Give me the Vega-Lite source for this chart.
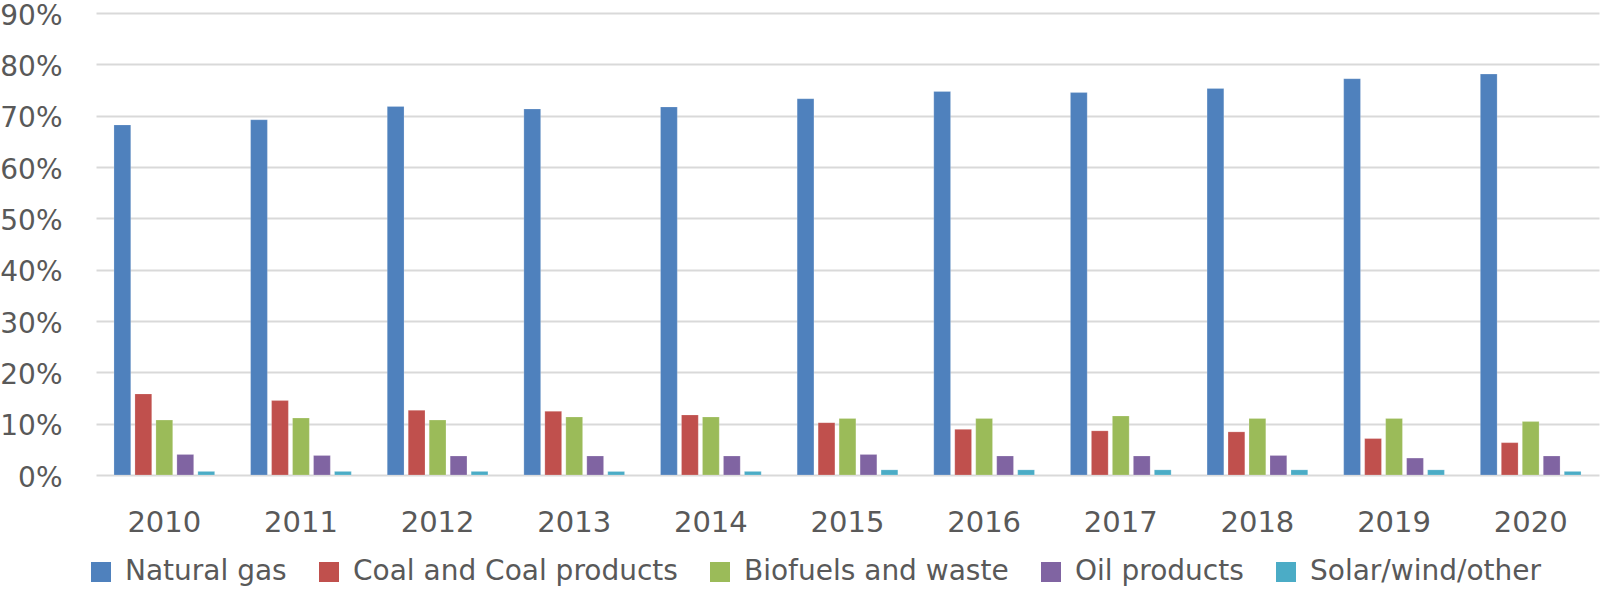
{
  "$schema": "https://vega.github.io/schema/vega-lite/v6.json",
  "width": 1503,
  "height": 462,
  "autosize": {"type": "none"},
  "padding": {"left": 96, "top": 13, "right": 1, "bottom": 116},
  "background": "white",
  "config": {
    "view": {"stroke": null},
    "font": "DejaVu Sans"
  },
  "data": {
    "values": [
      {"year": "2010", "source": "Natural gas", "share": 68.2},
      {"year": "2010", "source": "Coal and Coal products", "share": 15.8},
      {"year": "2010", "source": "Biofuels and waste", "share": 10.7},
      {"year": "2010", "source": "Oil products", "share": 4.0},
      {"year": "2010", "source": "Solar/wind/other", "share": 0.7},
      {"year": "2011", "source": "Natural gas", "share": 69.2},
      {"year": "2011", "source": "Coal and Coal products", "share": 14.5},
      {"year": "2011", "source": "Biofuels and waste", "share": 11.1},
      {"year": "2011", "source": "Oil products", "share": 3.8},
      {"year": "2011", "source": "Solar/wind/other", "share": 0.7},
      {"year": "2012", "source": "Natural gas", "share": 71.8},
      {"year": "2012", "source": "Coal and Coal products", "share": 12.6},
      {"year": "2012", "source": "Biofuels and waste", "share": 10.7},
      {"year": "2012", "source": "Oil products", "share": 3.7},
      {"year": "2012", "source": "Solar/wind/other", "share": 0.7},
      {"year": "2013", "source": "Natural gas", "share": 71.3},
      {"year": "2013", "source": "Coal and Coal products", "share": 12.4},
      {"year": "2013", "source": "Biofuels and waste", "share": 11.3},
      {"year": "2013", "source": "Oil products", "share": 3.7},
      {"year": "2013", "source": "Solar/wind/other", "share": 0.7},
      {"year": "2014", "source": "Natural gas", "share": 71.7},
      {"year": "2014", "source": "Coal and Coal products", "share": 11.7},
      {"year": "2014", "source": "Biofuels and waste", "share": 11.3},
      {"year": "2014", "source": "Oil products", "share": 3.7},
      {"year": "2014", "source": "Solar/wind/other", "share": 0.7},
      {"year": "2015", "source": "Natural gas", "share": 73.3},
      {"year": "2015", "source": "Coal and Coal products", "share": 10.2},
      {"year": "2015", "source": "Biofuels and waste", "share": 11.0},
      {"year": "2015", "source": "Oil products", "share": 4.0},
      {"year": "2015", "source": "Solar/wind/other", "share": 1.0},
      {"year": "2016", "source": "Natural gas", "share": 74.7},
      {"year": "2016", "source": "Coal and Coal products", "share": 8.9},
      {"year": "2016", "source": "Biofuels and waste", "share": 11.0},
      {"year": "2016", "source": "Oil products", "share": 3.7},
      {"year": "2016", "source": "Solar/wind/other", "share": 1.0},
      {"year": "2017", "source": "Natural gas", "share": 74.5},
      {"year": "2017", "source": "Coal and Coal products", "share": 8.6},
      {"year": "2017", "source": "Biofuels and waste", "share": 11.5},
      {"year": "2017", "source": "Oil products", "share": 3.7},
      {"year": "2017", "source": "Solar/wind/other", "share": 1.0},
      {"year": "2018", "source": "Natural gas", "share": 75.3},
      {"year": "2018", "source": "Coal and Coal products", "share": 8.4},
      {"year": "2018", "source": "Biofuels and waste", "share": 11.0},
      {"year": "2018", "source": "Oil products", "share": 3.8},
      {"year": "2018", "source": "Solar/wind/other", "share": 1.0},
      {"year": "2019", "source": "Natural gas", "share": 77.2},
      {"year": "2019", "source": "Coal and Coal products", "share": 7.1},
      {"year": "2019", "source": "Biofuels and waste", "share": 11.0},
      {"year": "2019", "source": "Oil products", "share": 3.3},
      {"year": "2019", "source": "Solar/wind/other", "share": 1.0},
      {"year": "2020", "source": "Natural gas", "share": 78.1},
      {"year": "2020", "source": "Coal and Coal products", "share": 6.3},
      {"year": "2020", "source": "Biofuels and waste", "share": 10.4},
      {"year": "2020", "source": "Oil products", "share": 3.7},
      {"year": "2020", "source": "Solar/wind/other", "share": 0.7}
    ]
  },
  "mark": {"type": "bar", "stroke": "white", "strokeOpacity": 0.4, "strokeWidth": 0.5},
  "encoding": {
    "x": {
      "field": "year",
      "type": "nominal",
      "scale": {"paddingInner": 0.263, "paddingOuter": 0.1315},
      "axis": {
        "title": null,
        "labelAngle": 0,
        "labelFont": "DejaVu Sans",
        "labelFontSize": 29,
        "labelColor": "#595959",
        "labelPadding": 33,
        "domain": false,
        "ticks": false
      }
    },
    "xOffset": {
      "field": "source",
      "type": "nominal",
      "sort": ["Natural gas", "Coal and Coal products", "Biofuels and waste", "Oil products", "Solar/wind/other"],
      "scale": {"paddingInner": 0.2, "paddingOuter": 0}
    },
    "y": {
      "field": "share",
      "type": "quantitative",
      "scale": {"domain": [0, 90], "nice": false},
      "axis": {
        "title": null,
        "values": [0, 10, 20, 30, 40, 50, 60, 70, 80, 90],
        "labelExpr": "datum.value + '%'",
        "labelFont": "DejaVu Sans",
        "labelFontSize": 28,
        "labelColor": "#595959",
        "labelPadding": 34,
        "labelOffset": 3,
        "domain": false,
        "ticks": false,
        "grid": true,
        "gridColor": "#D9D9D9",
        "gridWidth": 2
      }
    },
    "color": {
      "field": "source",
      "type": "nominal",
      "sort": ["Natural gas", "Coal and Coal products", "Biofuels and waste", "Oil products", "Solar/wind/other"],
      "scale": {
        "domain": ["Natural gas", "Coal and Coal products", "Biofuels and waste", "Oil products", "Solar/wind/other"],
        "range": ["#4F81BD", "#C0504D", "#9BBB59", "#8064A2", "#4BACC6"]
      },
      "legend": {
        "title": null,
        "orient": "none",
        "direction": "horizontal",
        "columns": 5,
        "legendX": -9,
        "legendY": 545,
        "padding": 0,
        "symbolType": "square",
        "symbolSize": 400,
        "symbolStrokeWidth": 0,
        "symbolOffset": 0,
        "labelFont": "DejaVu Sans",
        "labelFontSize": 28,
        "labelColor": "#595959",
        "labelOffset": 10,
        "labelLimit": 500,
        "columnPadding": 28
      }
    }
  }
}
